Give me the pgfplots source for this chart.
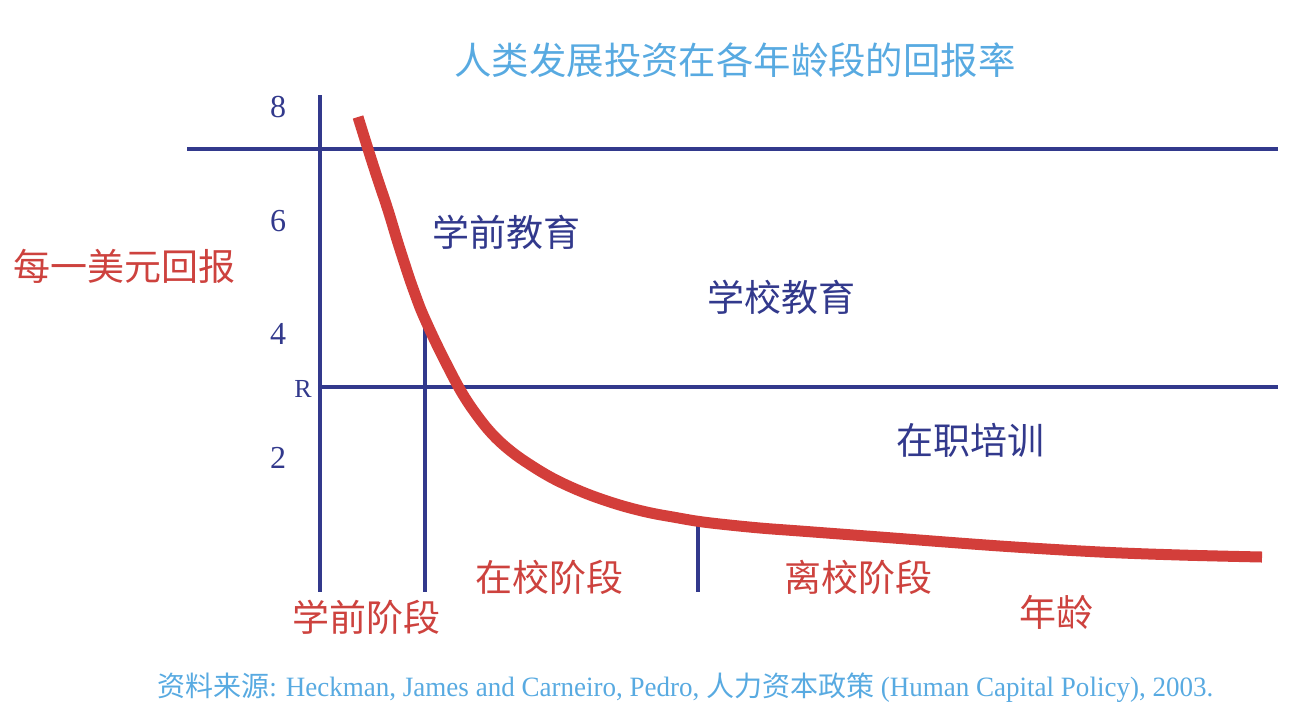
\documentclass[border=0pt]{standalone}
\usepackage{fontspec}
\setmainfont{Liberation Serif}
\newfontfamily\cjk{Noto Sans CJK SC}
\newfontfamily\srcfont[FakeStretch=0.965]{Liberation Serif}
\usepackage{pgfplots}
\pgfplotsset{compat=1.18}

\definecolor{navy}{RGB}{50,57,140}
\definecolor{curvered}{RGB}{211,62,58}
\definecolor{textred}{RGB}{205,66,62}
\definecolor{skyblue}{RGB}{88,170,225}

\begin{document}
\begin{tikzpicture}
\begin{axis}[
    width=645pt,height=357pt,
    scale only axis,
    hide axis,
    clip=false,
    xmin=0,xmax=1290,
    ymin=0,ymax=714,
    y dir=reverse,
]
% frame of the picture
\addplot[draw=none] coordinates {(0,0) (1290,714)};

% navy grid lines
\addplot[navy,line width=2pt] coordinates {(320,95) (320,592)};
\addplot[navy,line width=2pt] coordinates {(187,149) (1278,149)};
\addplot[navy,line width=2pt] coordinates {(320,387) (1278,387)};
\addplot[navy,line width=2pt] coordinates {(425,325) (425,592)};
\addplot[navy,line width=2pt] coordinates {(698,522) (698,592)};

% return curve
\addplot[curvered,line width=5.5pt,smooth,tension=0.55] coordinates {
    (358,117) (368,149) (377,177) (388,210) (398,243) (409,277)
    (415,294) (421,310) (429,328) (437,345) (447,365) (458,386)
    (467,401) (476,414) (486,427) (496,438) (507,448) (520,458)
    (540,471) (556,480) (573,488) (590,495) (607,501) (623,506)
    (640,510.5) (656,514) (673,517) (696,521) (720,524) (760,528)
    (800,531) (880,537) (1000,546) (1100,552) (1180,555) (1262,557)
};

% tick labels
\node[navy,font=\fontsize{16pt}{16pt}\selectfont] at (axis cs:278,107) {8};
\node[navy,font=\fontsize{16pt}{16pt}\selectfont] at (axis cs:278,221) {6};
\node[navy,font=\fontsize{16pt}{16pt}\selectfont] at (axis cs:278,334) {4};
\node[navy,font=\fontsize{13pt}{13pt}\selectfont] at (axis cs:303,389) {R};
\node[navy,font=\fontsize{16pt}{16pt}\selectfont] at (axis cs:278,458) {2};

% labels
\node[skyblue,font=\cjk\fontsize{18.7pt}{18.7pt}\selectfont] at (axis cs:735,60) {人类发展投资在各年龄段的回报率};
\node[navy,font=\cjk\fontsize{18.5pt}{18.5pt}\selectfont] at (axis cs:506,232) {学前教育};
\node[navy,font=\cjk\fontsize{18.5pt}{18.5pt}\selectfont] at (axis cs:781,297) {学校教育};
\node[navy,font=\cjk\fontsize{18.5pt}{18.5pt}\selectfont] at (axis cs:970,440) {在职培训};
\node[textred,font=\cjk\fontsize{18.5pt}{18.5pt}\selectfont] at (axis cs:124,266) {每一美元回报};
\node[textred,font=\cjk\fontsize{18.5pt}{18.5pt}\selectfont] at (axis cs:366,617) {学前阶段};
\node[textred,font=\cjk\fontsize{18.5pt}{18.5pt}\selectfont] at (axis cs:549,577) {在校阶段};
\node[textred,font=\cjk\fontsize{18.5pt}{18.5pt}\selectfont] at (axis cs:858,577) {离校阶段};
\node[textred,font=\cjk\fontsize{18.5pt}{18.5pt}\selectfont] at (axis cs:1056,612) {年龄};

% source
\node[skyblue,anchor=west,inner sep=0pt,font=\srcfont\fontsize{14pt}{14pt}\selectfont] at (axis cs:157,688)
    {{\cjk 资料来源}: Heckman, James and Carneiro, Pedro, {\cjk 人力资本政策} (Human Capital Policy), 2003.};
\end{axis}
\end{tikzpicture}
\end{document}
